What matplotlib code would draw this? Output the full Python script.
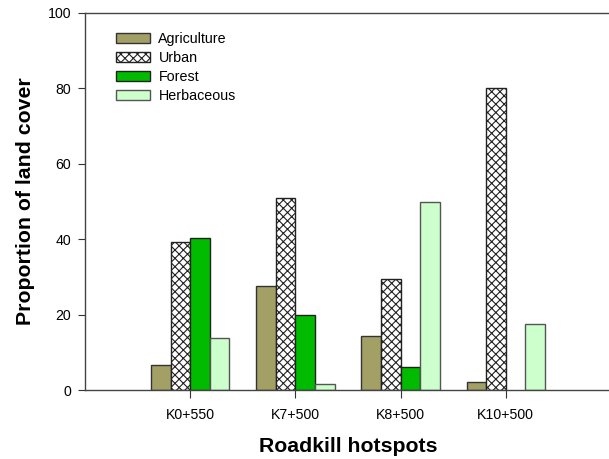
import numpy as np
import matplotlib
matplotlib.use('Agg')
from matplotlib import pyplot as plt

plt.rcParams['font.family'] = ['Liberation Sans', 'DejaVu Sans']
plt.rcParams['hatch.linewidth'] = 0.8

# land cover proportions around each roadkill hotspot
hotspots = ['K0+550', 'K7+500', 'K8+500', 'K10+500']
agriculture = [6.6, 27.7, 14.3, 2.2]
urban = [39.3, 50.8, 29.4, 80.2]
forest = [40.2, 19.9, 6.2, 0.0]
herbaceous = [13.7, 1.5, 50.0, 17.5]

series = [
    ('Agriculture', agriculture, '#a3a065', None, '#333333'),
    ('Urban', urban, 'white', 'xxxx', '#222222'),
    ('Forest', forest, '#00bb00', None, '#222222'),
    ('Herbaceous', herbaceous, '#ccffcc', None, '#555555'),
]

fig = plt.figure(figsize=(6.09, 4.59), dpi=100)
ax = fig.add_axes([0.1396, 0.1503, 1.0033 - 0.1396, 0.9717 - 0.1503])

x = np.arange(1, len(hotspots) + 1)
width = 0.186
for i, (name, vals, color, hatch, edge) in enumerate(series):
    offs = (i - 1.5) * width
    # skip zero-height bars so nothing is drawn for missing cover
    vv = np.array(vals, dtype=float)
    mask = vv > 0
    ax.bar(x[mask] + offs, vv[mask], width, color=color, hatch=hatch,
           edgecolor=edge, linewidth=1.0, label=name)

ax.set_xlim(0, 5)
ax.set_ylim(0, 100)
ax.set_xticks(x)
ax.set_xticklabels(hotspots)
ax.set_yticks([0, 20, 40, 60, 80, 100])
ax.tick_params(axis='x', direction='out', length=6, pad=7, labelsize=10.2, color='#333333')
ax.tick_params(axis='y', direction='out', length=5, pad=5, labelsize=10.2, color='#333333')

for s in ['top', 'left', 'bottom']:
    ax.spines[s].set_color('#444444')
    ax.spines[s].set_linewidth(1.0)
ax.spines['right'].set_visible(False)

ax.set_xlabel('Roadkill hotspots', fontsize=15.3, fontweight='bold', labelpad=11)
ax.set_ylabel('Proportion of land cover', fontsize=15.3, fontweight='bold', labelpad=9)

ax.legend(loc='upper left', bbox_to_anchor=(0.058, 0.95), frameon=False,
          fontsize=10.3, handlelength=2.4, handleheight=0.72,
          handletextpad=0.6, labelspacing=0.35, borderpad=0, borderaxespad=0)

fig.savefig('out.png', dpi=100)
